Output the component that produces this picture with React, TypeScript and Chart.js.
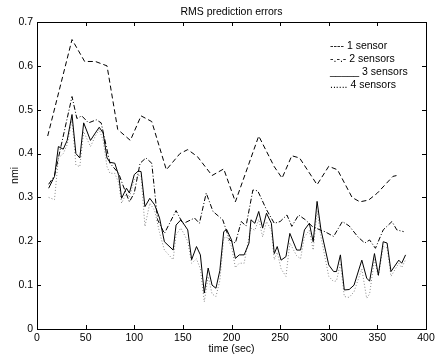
import React, { useEffect, useRef } from "react";
import { Chart, registerables } from "chart.js";

Chart.register(...registerables);

const time1 = [11, 36, 49, 60, 72, 83, 96, 107, 118, 133, 147, 155, 165, 180, 192, 204, 228, 244, 252, 262, 270, 288, 300, 309, 324, 332, 341, 350, 366, 370];
const sensor1 = [0.44, 0.66, 0.61, 0.61, 0.6, 0.455, 0.43, 0.486, 0.473, 0.363, 0.4, 0.409, 0.393, 0.35, 0.365, 0.29, 0.44, 0.37, 0.344, 0.395, 0.39, 0.329, 0.371, 0.363, 0.3, 0.29, 0.294, 0.31, 0.348, 0.35];

const time2 = [12, 18, 36, 41, 46, 53, 61, 66, 75, 84, 88, 95, 100, 106, 112, 118, 124, 131, 143, 150, 162, 167, 174, 181, 191, 198, 204, 210, 215, 222, 227, 236, 244, 250, 257, 262, 269, 276, 283, 291, 296, 305, 314, 321, 330, 337, 342, 348, 356, 365, 370, 377];
const sensor2 = [0.33, 0.35, 0.53, 0.48, 0.486, 0.47, 0.477, 0.47, 0.378, 0.355, 0.33, 0.29, 0.31, 0.378, 0.39, 0.378, 0.249, 0.218, 0.27, 0.24, 0.253, 0.241, 0.31, 0.268, 0.249, 0.203, 0.196, 0.245, 0.235, 0.317, 0.315, 0.272, 0.241, 0.245, 0.26, 0.234, 0.26, 0.249, 0.234, 0.226, 0.222, 0.211, 0.245, 0.235, 0.21, 0.196, 0.203, 0.184, 0.226, 0.245, 0.226, 0.222];

const time34 = [12, 18, 22, 27, 31, 36, 40, 44, 48, 55, 60, 64, 68, 72, 75, 80, 84, 87, 92, 95, 100, 104, 107, 111, 116, 121, 126, 131, 140, 143, 148, 155, 159, 164, 168, 172, 176, 180, 184, 188, 192, 195, 200, 204, 208, 213, 218, 220, 224, 228, 232, 236, 241, 244, 247, 251, 256, 260, 267, 271, 275, 280, 284, 288, 292, 300, 305, 308, 312, 316, 321, 326, 334, 339, 342, 347, 351, 356, 360, 364, 372, 375, 379];
const sensor3 = [0.321, 0.348, 0.416, 0.41, 0.43, 0.489, 0.4, 0.39, 0.47, 0.43, 0.447, 0.46, 0.447, 0.39, 0.38, 0.378, 0.35, 0.298, 0.321, 0.31, 0.352, 0.36, 0.359, 0.279, 0.298, 0.283, 0.253, 0.199, 0.18, 0.237, 0.249, 0.226, 0.158, 0.188, 0.169, 0.082, 0.139, 0.1, 0.093, 0.133, 0.222, 0.227, 0.203, 0.161, 0.169, 0.169, 0.196, 0.249, 0.241, 0.268, 0.23, 0.264, 0.241, 0.172, 0.188, 0.157, 0.165, 0.218, 0.18, 0.18, 0.226, 0.241, 0.199, 0.291, 0.226, 0.146, 0.131, 0.131, 0.169, 0.089, 0.09, 0.1, 0.157, 0.116, 0.109, 0.172, 0.123, 0.199, 0.196, 0.131, 0.157, 0.15, 0.169];
const sensor4 = [0.3, 0.295, 0.39, 0.4, 0.42, 0.478, 0.374, 0.37, 0.45, 0.416, 0.44, 0.455, 0.43, 0.37, 0.355, 0.355, 0.333, 0.287, 0.31, 0.3, 0.34, 0.35, 0.35, 0.234, 0.287, 0.27, 0.22, 0.18, 0.158, 0.215, 0.23, 0.2, 0.15, 0.16, 0.137, 0.062, 0.12, 0.08, 0.074, 0.11, 0.207, 0.21, 0.188, 0.14, 0.15, 0.15, 0.21, 0.23, 0.225, 0.25, 0.21, 0.245, 0.225, 0.158, 0.175, 0.137, 0.12, 0.196, 0.167, 0.16, 0.21, 0.225, 0.18, 0.27, 0.21, 0.12, 0.108, 0.11, 0.15, 0.074, 0.072, 0.085, 0.137, 0.07, 0.08, 0.158, 0.12, 0.188, 0.185, 0.12, 0.15, 0.14, 0.158];

const xTicks = [0, 50, 100, 150, 200, 250, 300, 350, 400];
const yTicks = [0, 0.1, 0.2, 0.3, 0.4, 0.5, 0.6, 0.7];
const yTickLabels = ["0", "0.1", "0.2", "0.3", "0.4", "0.5", "0.6", "0.7"];
const legendLines = ["---- 1 sensor", "-.-.- 2 sensors", "_____ 3 sensors", "...... 4 sensors"];
const titleText = "RMS prediction errors";
const xLabel = "time (sec)";
const yLabel = "nmi";

const FONT = "Liberation Sans, Arial, Helvetica, sans-serif";

const pts = (t: number[], v: number[]) => t.map((x, i) => ({ x, y: v[i] }));

const framePlugin = {
  id: "matlabFrame",
  afterDraw(chart: any) {
    const { ctx, chartArea: a, scales } = chart;
    const xs = scales.x;
    const ys = scales.y;
    ctx.save();
    ctx.strokeStyle = "#000";
    ctx.lineWidth = 1;
    ctx.setLineDash([]);
    ctx.strokeRect(Math.round(a.left) + 0.5, Math.round(a.top) + 0.5, Math.round(a.right - a.left), Math.round(a.bottom - a.top));
    const tl = 4;
    ctx.beginPath();
    xTicks.forEach((t) => {
      const px = Math.round(xs.getPixelForValue(t)) + 0.5;
      ctx.moveTo(px, a.bottom);
      ctx.lineTo(px, a.bottom - tl);
      ctx.moveTo(px, a.top);
      ctx.lineTo(px, a.top + tl);
    });
    yTicks.forEach((t) => {
      const py = Math.round(ys.getPixelForValue(t)) + 0.5;
      ctx.moveTo(a.left, py);
      ctx.lineTo(a.left + tl, py);
      ctx.moveTo(a.right, py);
      ctx.lineTo(a.right - tl, py);
    });
    ctx.stroke();

    ctx.fillStyle = "#000";
    ctx.font = `10.5px ${FONT}`;
    ctx.textAlign = "center";
    ctx.textBaseline = "top";
    xTicks.forEach((t) => {
      ctx.fillText(String(t), xs.getPixelForValue(t), a.bottom + 4);
    });
    ctx.textAlign = "right";
    ctx.textBaseline = "middle";
    yTicks.forEach((t, i) => {
      ctx.fillText(yTickLabels[i], a.left - 4, ys.getPixelForValue(t));
    });
    ctx.textAlign = "center";
    ctx.textBaseline = "middle";
    ctx.fillText(titleText, (a.left + a.right) / 2, 12);
    ctx.fillText(xLabel, (a.left + a.right) / 2, 349);
    ctx.save();
    ctx.translate(15, (a.top + a.bottom) / 2);
    ctx.rotate(-Math.PI / 2);
    ctx.fillText(yLabel, 0, 0);
    ctx.restore();

    ctx.textAlign = "left";
    ctx.font = `10.5px ${FONT}`;
    legendLines.forEach((s, i) => {
      ctx.fillText(s, 330, 46 + i * 13.2);
    });
    ctx.restore();
  },
};

export default function App() {
  const ref = useRef<HTMLCanvasElement | null>(null);
  useEffect(() => {
    document.body.style.margin = "0";
    if (!ref.current) return;
    const chart = new Chart(ref.current, {
      type: "line",
      data: {
        datasets: [
          { label: "1 sensor", data: pts(time1, sensor1), borderColor: "#000", borderWidth: 1, borderDash: [5, 3] },
          { label: "2 sensors", data: pts(time2, sensor2), borderColor: "#000", borderWidth: 1, borderDash: [5, 2, 1, 2] },
          { label: "3 sensors", data: pts(time34, sensor3), borderColor: "#000", borderWidth: 1 },
          { label: "4 sensors", data: pts(time34, sensor4), borderColor: "#888", borderWidth: 1, borderDash: [1, 2] },
        ],
      },
      options: {
        animation: false,
        responsive: false,
        maintainAspectRatio: false,
        devicePixelRatio: 1,
        layout: { padding: { left: 37, right: 9, top: 22, bottom: 26 } },
        elements: { point: { radius: 0 }, line: { tension: 0 } },
        plugins: { legend: { display: false }, title: { display: false }, tooltip: { enabled: false } },
        scales: {
          x: { type: "linear", min: 0, max: 400, display: false },
          y: { type: "linear", min: 0, max: 0.7, display: false },
        },
      },
      plugins: [framePlugin],
    });
    return () => chart.destroy();
  }, []);
  return (
    <div style={{ position: "fixed", left: 0, top: 0, width: 435, height: 355, background: "#fff" }}>
      <canvas ref={ref} width={435} height={355} style={{ width: 435, height: 355 }} />
    </div>
  );
}
